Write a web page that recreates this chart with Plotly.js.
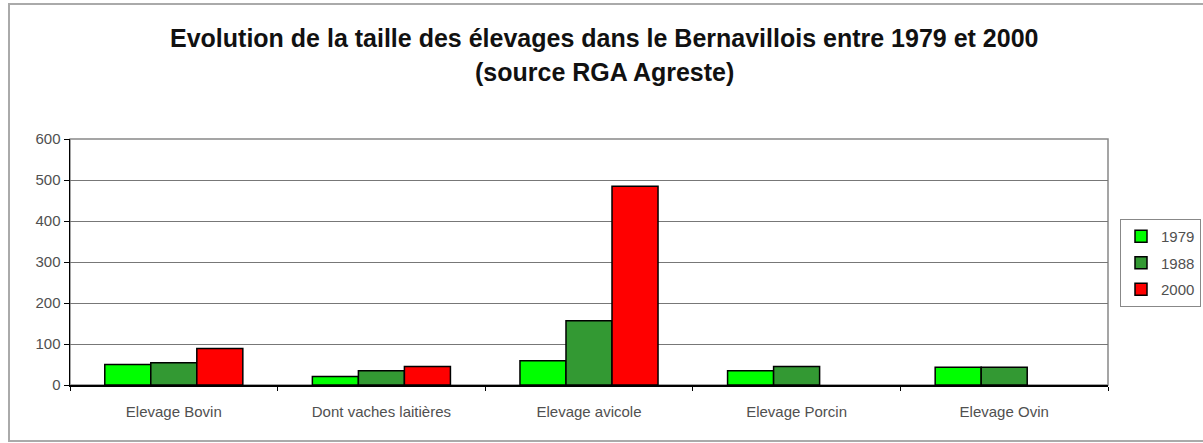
<!DOCTYPE html>
<html>
<head>
<meta charset="utf-8">
<script src="https://cdn.plot.ly/plotly-3.0.1.min.js"></script>
<style>
  html, body { margin: 0; padding: 0; background: #fff; }
  #chart { width: 1203px; height: 443px; }
</style>
</head>
<body>
<div id="chart"></div>
<script>
const categories = ["Elevage Bovin", "Dont vaches laitières", "Elevage avicole", "Elevage Porcin", "Elevage Ovin"];
const years = ["1979", "1988", "2000"];
const values1979 = [50, 21, 59, 35, 43];
const values1988 = [54, 35, 157, 45, 43];
const values2000 = [89, 45, 485, null, null];
const seriesColors = ["#00ff00", "#339933", "#ff0000"];
const yTickVals = [0, 100, 200, 300, 400, 500, 600];
const titleLine1 = "Evolution de la taille des élevages dans le Bernavillois entre 1979 et 2000";
const titleLine2 = "(source RGA Agreste)";

const seriesValues = [values1979, values1988, values2000];
const traces = years.map((yr, i) => ({
  type: "bar",
  name: yr,
  x: categories,
  y: seriesValues[i],
  legendgroup: "g" + i,
  marker: { color: seriesColors[i], line: { color: "#000", width: 1.5 } },
  hoverinfo: "x+y+name"
}));

const L = 70, R = 95, T = 139, B = 58, W = 1203, H = 443;
const pw = W - L - R, ph = H - T - B;
const px = p => (p - L) / pw;
const py = p => (H - B - p) / ph;
const labelColor = "#505050";

const layout = {
  width: W, height: H,
  margin: { l: L, r: R, t: T, b: B, pad: 0, autoexpand: false },
  paper_bgcolor: "#fff", plot_bgcolor: "#fff",
  font: { family: "Liberation Sans, Arial, sans-serif", size: 15, color: labelColor },
  barmode: "group",
  bargap: 0.335,
  bargroupgap: 0,
  showlegend: true,
  legend: {
    x: px(1120), y: py(219), xanchor: "left", yanchor: "top",
    bordercolor: "#888", borderwidth: 1, bgcolor: "#fff",
    font: { size: 15, color: labelColor },
    traceorder: "grouped", tracegroupgap: 4,
    itemwidth: 30
  },
  xaxis: {
    type: "category",
    showline: true, linecolor: "#000", linewidth: 1.5,
    ticks: "outside", ticklen: 4, tickcolor: "#000", tickson: "boundaries",
    ticklabelstandoff: 12,
    showgrid: false, zeroline: false, fixedrange: true,
    tickfont: { size: 15, color: labelColor }
  },
  yaxis: {
    range: [0, 600], tickvals: yTickVals,
    showline: true, linecolor: "#000", linewidth: 1.5,
    ticks: "outside", ticklen: 5, tickcolor: "#000",
    showgrid: true, gridcolor: "#777", gridwidth: 1,
    zeroline: false, fixedrange: true,
    tickfont: { size: 15, color: labelColor }
  },
  shapes: [
    { type: "rect", xref: "paper", yref: "paper", x0: 0, x1: 1, y0: 0, y1: 1,
      line: { color: "#888", width: 1.5 }, layer: "below" },
    { type: "rect", xref: "paper", yref: "paper", x0: px(9), x1: px(1215), y0: py(441), y1: py(4),
      line: { color: "#aaa", width: 2 }, layer: "below" }
  ],
  annotations: [
    { text: "<b>" + titleLine1 + "</b>", xref: "paper", yref: "paper",
      x: px(604), y: py(38), xanchor: "center", yanchor: "middle", showarrow: false,
      font: { family: "Liberation Sans, Arial, sans-serif", size: 25, color: "#111" } },
    { text: "<b>" + titleLine2 + "</b>", xref: "paper", yref: "paper",
      x: px(604), y: py(72), xanchor: "center", yanchor: "middle", showarrow: false,
      font: { family: "Liberation Sans, Arial, sans-serif", size: 25, color: "#111" } }
  ]
};

Plotly.newPlot("chart", traces, layout, { displayModeBar: false, staticPlot: true });
</script>
</body>
</html>
